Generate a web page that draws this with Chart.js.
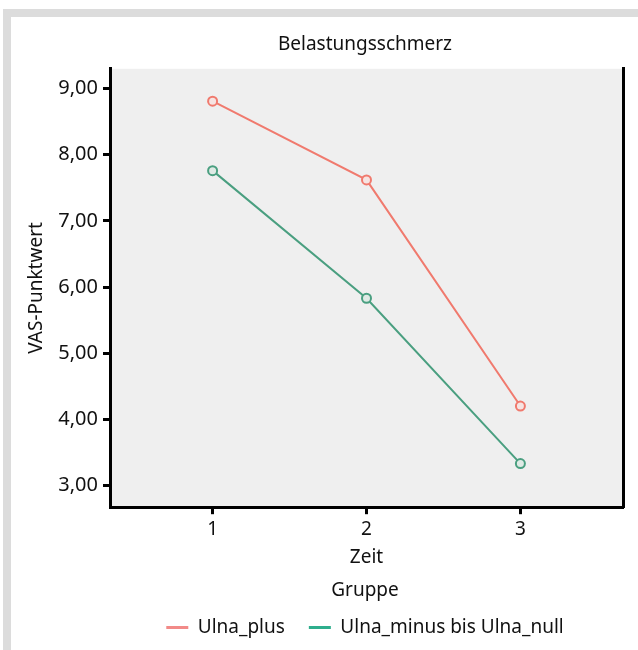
<!DOCTYPE html>
<html>
<head>
<meta charset="utf-8">
<script src="https://cdn.jsdelivr.net/npm/chart.js@4"></script>
<style>
  html, body { margin: 0; padding: 0; background: #fff; }
  #frame {
    position: absolute; left: 3px; top: 9px; width: 700px; height: 700px;
    border-left: 8px solid #dcdcdc; border-top: 8px solid #dcdcdc;
  }
  #wrap { position: absolute; left: 0; top: 0; width: 638px; height: 650px; }
</style>
</head>
<body>
<div id="frame"></div>
<div id="wrap"><canvas id="chart"></canvas></div>
<script>
const zeit = [1, 2, 3];
const ulnaPlus = [8.81, 7.62, 4.20];
const ulnaMinus = [7.76, 5.83, 3.33];
const yTicks = [3, 4, 5, 6, 7, 8, 9];

const red = "#f07a6e";
const green = "#4a9f80";
const legendColors = ["#f28a88", "#2fae8d"];
const font = "'Noto Sans', 'Open Sans', sans-serif";

const plotBg = {
  id: "plotBg",
  beforeDraw(chart) {
    const { ctx, chartArea: a } = chart;
    ctx.save();
    ctx.fillStyle = "#efefef";
    ctx.fillRect(a.left, a.top, a.right - a.left, a.bottom - a.top);
    ctx.restore();
  },
  // title and legend are centred over the plot, not over the canvas
  afterLayout(chart) {
    const shift = (chart.chartArea.left + chart.chartArea.right) / 2 - chart.width / 2;
    for (const box of [chart.legend, chart.titleBlock]) {
      if (box) { box.left += shift; box.right += shift; }
    }
  }
};

new Chart(document.getElementById("chart").getContext("2d"), {
  type: "line",
  data: {
    datasets: [
      {
        label: "Ulna_plus",
        data: zeit.map((x, i) => ({ x, y: ulnaPlus[i] })),
        borderColor: red,
        pointBorderColor: red,
        pointBackgroundColor: "#f6e4e2",
      },
      {
        label: "Ulna_minus bis Ulna_null",
        data: zeit.map((x, i) => ({ x, y: ulnaMinus[i] })),
        borderColor: green,
        pointBorderColor: green,
        pointBackgroundColor: "#dfeae5",
      },
    ],
  },
  options: {
    responsive: true,
    maintainAspectRatio: false,
    animation: false,
    elements: {
      line: { borderWidth: 2, tension: 0 },
      point: { radius: 4.5, borderWidth: 2 },
    },
    layout: { padding: { top: 17, left: 12, right: 15, bottom: 3 } },
    scales: {
      x: {
        type: "linear",
        min: 1 / 3,
        max: 11 / 3,
        afterBuildTicks: (s) => { s.ticks = zeit.map((v) => ({ value: v })); },
        afterFit: (s) => { s.height = 70; },
        ticks: { color: "#111", font: { family: font, size: 19 }, padding: 4, callback: (v) => String(v) },
        grid: { drawOnChartArea: false, tickLength: 7, tickWidth: 3, tickColor: "#000" },
        border: { color: "#000", width: 3 },
        title: { display: true, text: "Zeit", color: "#111", font: { family: font, size: 19 }, padding: { top: 0, bottom: 8 } },
      },
      y: {
        min: 2.67,
        max: 9.3,
        afterBuildTicks: (s) => { s.ticks = yTicks.map((v) => ({ value: v })); },
        afterFit: (s) => { s.width = 98; },
        ticks: { color: "#111", font: { family: font, size: 20 }, padding: 5, callback: (v) => v.toFixed(2).replace(".", ",") },
        grid: { drawOnChartArea: false, tickLength: 7, tickWidth: 3, tickColor: "#000" },
        border: { color: "#000", width: 3 },
        title: { display: true, text: "VAS-Punktwert", color: "#111", font: { family: font, size: 19 }, padding: { top: 13, bottom: 0 } },
      },
      yRight: {
        position: "right",
        min: 2.67,
        max: 9.3,
        afterFit: (s) => { s.width = 0; },
        ticks: { display: false },
        grid: { display: false },
        border: { color: "#000", width: 3 },
      },
    },
    plugins: {
      title: {
        display: true,
        text: "Belastungsschmerz",
        color: "#111",
        font: { family: font, size: 19, weight: "normal" },
        padding: { top: 16, bottom: 13 },
      },
      legend: {
        position: "bottom",
        title: { display: true, text: "Gruppe", color: "#111", font: { family: font, size: 19 }, padding: { top: 4, bottom: -10 } },
        labels: {
          color: "#111",
          font: { family: font, size: 19 },
          usePointStyle: true,
          pointStyleWidth: 22,
          boxHeight: 3,
          padding: 24,
          generateLabels: (chart) => chart.data.datasets.map((d, i) => ({
            text: d.label,
            fillStyle: legendColors[i],
            strokeStyle: legendColors[i],
            lineWidth: 3,
            pointStyle: "line",
            datasetIndex: i,
            fontColor: "#111",
          })),
        },
      },
      tooltip: { enabled: false },
    },
  },
  plugins: [plotBg],
});
</script>
</body>
</html>
